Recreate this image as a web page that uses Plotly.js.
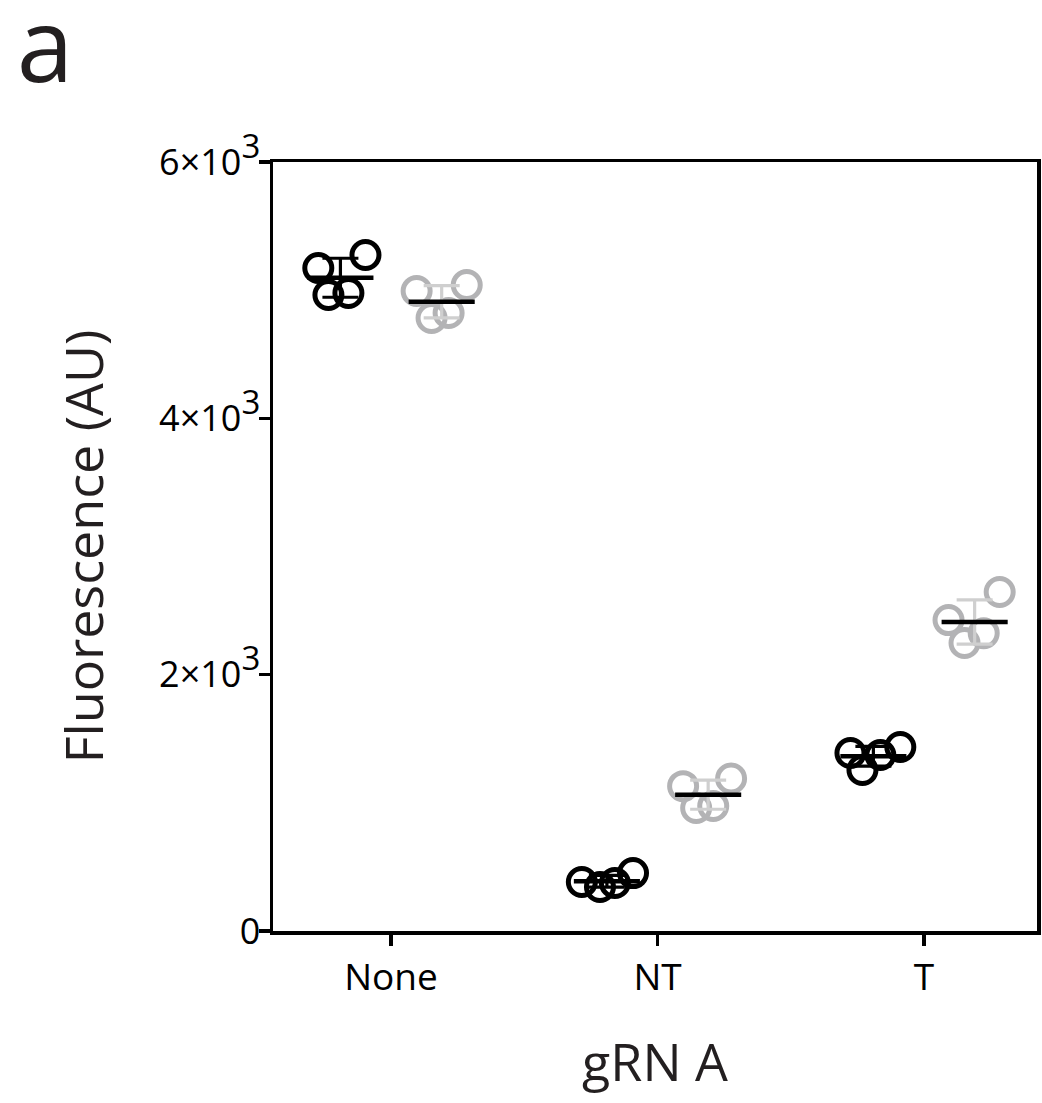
<!DOCTYPE html>
<html>
<head>
<meta charset="utf-8">
<script src="https://cdn.plot.ly/plotly-3.0.1.min.js"></script>
<style>
  html, body { margin: 0; padding: 0; background: #ffffff; }
  #chart { width: 1042px; height: 1103px; }
</style>
</head>
<body>
<div id="chart"></div>
<script>
// gRNA groups on the x axis
const groups = ['None', 'NT', 'T'];

// Fluorescence replicates (AU), one array per group, for each condition
const darkNone  = [5173, 5274, 4962, 4978];
const darkNT    = [382, 343, 375, 452];
const darkT     = [1389, 1256, 1373, 1436];
const lightNone = [4993, 5040, 4783, 4822];
const lightNT   = [1130, 1190, 960, 975];
const lightT    = [2426, 2645, 2247, 2324];

// horizontal scatter of the replicate dots within each group (category units)
const darkJitter  = [[-0.083, 0.094, -0.045, 0.030], [-0.094, -0.026, 0.030, 0.098], [-0.086, -0.041, 0.026, 0.101]];
const lightJitter = [[-0.094, 0.094, -0.038, 0.026], [-0.094, 0.086, -0.045, 0.019], [-0.098, 0.094, -0.038, 0.034]];

// y axis ticks
const yTickVals = [0, 2000, 4000, 6000];
const yMantissa = ['0', '2', '4', '6'];

// exponent drawn nearly as large as the mantissa, raised above the baseline
const SUP = n => '<span style="font-size:33px;baseline-shift:17px">' + n + '</span>';
const yTickText = yMantissa.map(m => m === '0' ? '0' : m + '×10' + SUP(3));

const dark = [darkNone, darkNT, darkT];
const light = [lightNone, lightNT, lightT];

const SHIFT = 0.19;      // offset of each condition from the group centre
const HALF = 0.124;      // half-length of the mean bar
const TXT = '#231f20';
const FONT = 'Open Sans, Noto Sans, sans-serif';

const mean = a => a.reduce((s, v) => s + v, 0) / a.length;
const sd = a => { const m = mean(a); return Math.sqrt(a.reduce((s, v) => s + (v - m) * (v - m), 0) / (a.length - 1)); };

function dots(sets, jit, shift, color) {
  const x = [], y = [];
  sets.forEach((vals, g) => vals.forEach((v, i) => { x.push(g + shift + jit[g][i]); y.push(v); }));
  return {
    type: 'scatter', mode: 'markers', x, y, hoverinfo: 'skip', showlegend: false,
    marker: { symbol: 'circle-open', size: 27, color: color, line: { width: 5, color: color } }
  };
}

function errs(sets, shift, color) {
  return {
    type: 'scatter', mode: 'markers', hoverinfo: 'skip', showlegend: false,
    x: sets.map((_, g) => g + shift), y: sets.map(mean),
    marker: { size: 1, color: 'rgba(0,0,0,0)' },
    error_y: { type: 'data', array: sets.map(sd), visible: true, color: color, thickness: 3.2, width: 18 }
  };
}

function meanBars(sets, shift) {
  const x = [], y = [];
  sets.forEach((vals, g) => {
    const m = mean(vals);
    x.push(g + shift - HALF, g + shift + HALF, null);
    y.push(m, m, null);
  });
  return {
    type: 'scatter', mode: 'lines', x, y, hoverinfo: 'skip', showlegend: false,
    line: { color: '#000000', width: 4.5 }
  };
}

const traces = [
  dots(dark, darkJitter, -SHIFT, '#000000'),
  dots(light, lightJitter, SHIFT, '#b3b3b5'),
  errs(dark, -SHIFT, '#000000'),
  errs(light, SHIFT, '#cfcfcf'),
  meanBars(dark, -SHIFT),
  meanBars(light, SHIFT)
];

const layout = {
  width: 1042, height: 1103,
  margin: { l: 273, r: 5, t: 162, b: 172 },
  paper_bgcolor: '#ffffff', plot_bgcolor: '#ffffff',
  font: { family: FONT, color: TXT, size: 36 },
  title: {
    text: 'a', xref: 'container', yref: 'container',
    x: 0.016, xanchor: 'left', y: 0.99, yanchor: 'top',
    font: { family: FONT, size: 102, color: TXT }
  },
  xaxis: {
    range: [-0.443, 2.424], tickvals: [0, 1, 2], ticktext: groups,
    showgrid: false, zeroline: false,
    showline: true, linecolor: '#000000', linewidth: 3.5, mirror: true,
    ticks: 'outside', ticklen: 11, tickwidth: 3.5, tickcolor: '#000000',
    tickfont: { family: FONT, size: 37, color: '#000000' },
    title: { text: 'gRN A', standoff: 45, font: { family: FONT, size: 52, color: TXT } }
  },
  yaxis: {
    range: [0, 6000], tickvals: yTickVals, ticktext: yTickText,
    showgrid: false, zeroline: false,
    showline: true, linecolor: '#000000', linewidth: 3.5, mirror: true,
    ticks: 'outside', ticklen: 11, tickwidth: 3.5, tickcolor: '#000000',
    ticklabelstandoff: -9,
    tickfont: { family: FONT, size: 36, color: '#000000' },
    title: { text: 'Fluorescence (AU)', standoff: 40, font: { family: FONT, size: 52, color: TXT } }
  }
};

Plotly.newPlot('chart', traces, layout, { staticPlot: true, displayModeBar: false });
</script>
</body>
</html>
